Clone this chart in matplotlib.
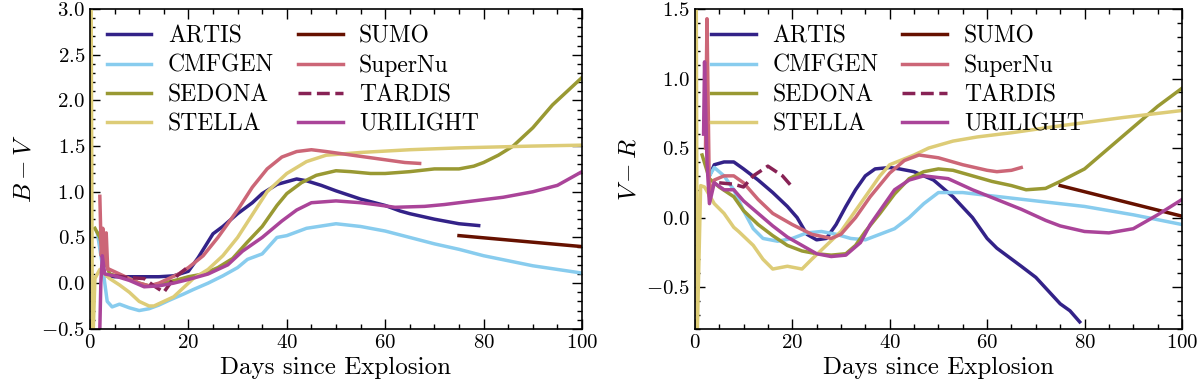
import numpy as np
import matplotlib
matplotlib.use("Agg")
import matplotlib.pyplot as plt
from matplotlib.ticker import MultipleLocator

plt.rcParams['font.family'] = 'serif'
plt.rcParams['font.serif'] = ['cmr10']
plt.rcParams['mathtext.fontset'] = 'cm'
plt.rcParams['axes.formatter.use_mathtext'] = True

# ---- B - V ----
bv_artis_d = [3.5, 5, 8, 11, 14, 17, 20, 22, 25, 27, 30, 33, 35, 38, 40, 42, 44, 47, 50, 55, 60, 63, 65, 70, 75, 79]
bv_artis = [0.08, 0.07, 0.07, 0.07, 0.07, 0.08, 0.13, 0.28, 0.54, 0.62, 0.76, 0.88, 0.98, 1.08, 1.11, 1.14, 1.12, 1.07, 1.01, 0.92, 0.85, 0.79, 0.76, 0.70, 0.65, 0.63]

bv_cmfgen_d = [1.5, 2.5, 3.5, 4.5, 6, 8, 10, 12, 14, 16, 19, 21, 24, 27, 30, 32, 35, 38, 40, 44, 50, 55, 60, 65, 70, 75, 80, 90, 100]
bv_cmfgen = [0.55, 0.2, -0.2, -0.26, -0.23, -0.27, -0.3, -0.28, -0.24, -0.19, -0.12, -0.07, 0.0, 0.08, 0.17, 0.26, 0.32, 0.5, 0.52, 0.6, 0.65, 0.62, 0.57, 0.5, 0.43, 0.37, 0.30, 0.19, 0.11]

bv_sedona_d = [1, 2, 3, 4, 6, 8, 10, 12, 15, 18, 20, 23, 26, 29, 32, 35, 38, 40, 43, 46, 50, 53, 57, 60, 65, 70, 75, 78, 80, 83, 86, 90, 94, 96, 100]
bv_sedona = [0.6, 0.5, 0.25, 0.1, 0.07, 0.05, 0.0, -0.03, 0.0, 0.04, 0.07, 0.1, 0.17, 0.27, 0.45, 0.62, 0.85, 0.98, 1.1, 1.18, 1.23, 1.22, 1.2, 1.2, 1.22, 1.25, 1.25, 1.28, 1.32, 1.4, 1.5, 1.7, 1.95, 2.05, 2.25]

bv_stella_d = [0.2, 0.5, 1, 2, 3, 4, 6, 8, 10, 12, 13, 15, 17, 19, 21, 24, 27, 30, 33, 36, 40, 44, 48, 55, 65, 75, 90, 100]
bv_stella = [3.5, -0.8, 0.05, 0.15, 0.1, 0.05, -0.02, -0.1, -0.2, -0.25, -0.25, -0.2, -0.15, -0.05, 0.05, 0.15, 0.3, 0.5, 0.75, 1.0, 1.2, 1.33, 1.4, 1.43, 1.46, 1.48, 1.5, 1.51]

bv_sumo_d = [75, 100]
bv_sumo = [0.52, 0.4]

bv_supernu_d = [2, 2.3, 2.6, 3, 3.3, 3.6, 4, 6, 8, 10, 12, 14, 16, 18, 20, 23, 26, 30, 33, 36, 39, 42, 45, 48, 52, 56, 60, 64, 67]
bv_supernu = [0.95, 0.3, 0.6, 0.2, 0.55, 0.15, 0.15, 0.1, 0.05, 0.0, -0.03, 0.0, 0.05, 0.1, 0.17, 0.3, 0.5, 0.8, 1.05, 1.25, 1.38, 1.44, 1.46, 1.44, 1.41, 1.38, 1.35, 1.32, 1.31]

bv_tardis_d = [5, 8, 11, 13, 15, 17, 20]
bv_tardis = [0.08, 0.06, 0.05, -0.03, -0.1, 0.05, 0.18]

bv_uri_d = [2, 2.2, 2.5, 3, 5, 8, 11, 14, 17, 20, 24, 28, 31, 35, 39, 42, 45, 50, 55, 58, 62, 68, 72, 78, 84, 90, 95, 100]
bv_uri = [-0.5, 0.0, 0.3, 0.1, 0.08, 0.03, -0.04, -0.03, 0.0, 0.04, 0.1, 0.2, 0.35, 0.5, 0.68, 0.8, 0.88, 0.9, 0.88, 0.86, 0.83, 0.84, 0.86, 0.9, 0.94, 1.0, 1.07, 1.22]

# ---- V - R ----
vr_artis_d = [3, 4, 6, 8, 10, 13, 16, 19, 21, 23, 25, 27, 29, 31, 33, 35, 37, 40, 42, 45, 49, 53, 57, 60, 62, 67, 70, 75, 77, 79]
vr_artis = [0.3, 0.38, 0.4, 0.4, 0.35, 0.27, 0.18, 0.08, 0.0, -0.12, -0.16, -0.15, -0.05, 0.08, 0.2, 0.3, 0.35, 0.36, 0.35, 0.33, 0.27, 0.15, 0.0, -0.15, -0.22, -0.35, -0.43, -0.62, -0.67, -0.75]

vr_cmfgen_d = [3, 4, 6, 8, 10, 12, 14, 17, 20, 23, 26, 29, 32, 35, 38, 41, 44, 47, 50, 55, 60, 70, 80, 90, 100]
vr_cmfgen = [0.3, 0.36, 0.3, 0.2, 0.05, -0.08, -0.15, -0.17, -0.15, -0.11, -0.1, -0.12, -0.15, -0.16, -0.12, -0.08, 0.0, 0.1, 0.18, 0.18, 0.16, 0.12, 0.08, 0.02, -0.05]

vr_sedona_d = [1.5, 3, 5, 8, 10, 13, 16, 19, 22, 25, 28, 31, 33, 35, 38, 41, 44, 47, 50, 53, 57, 61, 65, 68, 72, 75, 80, 85, 90, 95, 100]
vr_sedona = [0.45, 0.28, 0.22, 0.15, 0.05, -0.05, -0.13, -0.2, -0.24, -0.26, -0.27, -0.26, -0.2, -0.1, 0.03, 0.17, 0.28, 0.33, 0.35, 0.34, 0.3, 0.26, 0.23, 0.2, 0.21, 0.26, 0.35, 0.5, 0.65, 0.8, 0.93]

vr_stella_d = [0.3, 0.5, 1.2, 2, 4, 6, 8, 9, 12, 14, 16, 19, 22, 24, 27, 30, 32, 35, 38, 40, 45, 48, 53, 58, 65, 75, 88, 100]
vr_stella = [1.6, -0.85, 0.23, 0.22, 0.1, 0.03, -0.07, -0.1, -0.2, -0.3, -0.37, -0.35, -0.37, -0.3, -0.2, -0.1, 0.0, 0.15, 0.3, 0.38, 0.45, 0.5, 0.55, 0.58, 0.61, 0.66, 0.72, 0.77]

vr_sumo_d = [75, 100]
vr_sumo = [0.23, 0.01]

vr_supernu_d = [2.2, 2.5, 3, 4, 6, 8, 10, 13, 16, 20, 24, 28, 30, 33, 36, 40, 43, 46, 50, 55, 60, 62, 65, 67]
vr_supernu = [0.5, 1.43, 0.15, 0.27, 0.3, 0.3, 0.25, 0.13, 0.03, -0.05, -0.12, -0.15, -0.12, 0.0, 0.15, 0.32, 0.41, 0.45, 0.43, 0.38, 0.34, 0.33, 0.34, 0.36]

vr_tardis_d = [5, 8, 10, 12, 15, 18, 20]
vr_tardis = [0.25, 0.24, 0.22, 0.3, 0.37, 0.3, 0.22]

vr_uri_d = [1.8, 2, 2.5, 3, 4, 6, 8, 10, 13, 16, 19, 22, 25, 28, 31, 34, 36, 39, 41, 44, 47, 52, 57, 62, 67, 72, 75, 80, 85, 90, 95, 100]
vr_uri = [0.6, 1.12, 0.4, 0.1, 0.25, 0.2, 0.2, 0.12, 0.03, -0.06, -0.14, -0.2, -0.26, -0.28, -0.27, -0.18, -0.05, 0.1, 0.2, 0.27, 0.3, 0.28, 0.2, 0.13, 0.06, -0.02, -0.06, -0.1, -0.11, -0.08, 0.02, 0.13]

names = ['ARTIS', 'CMFGEN', 'SEDONA', 'STELLA', 'SUMO', 'SuperNu', 'TARDIS', 'URILIGHT']
colors = ['#332288', '#88CCEE', '#999933', '#DDCC77', '#661100', '#CC6677', '#882255', '#AA4499']
styles = ['-', '-', '-', '-', '-', '-', '--', '-']

bv = [(bv_artis_d, bv_artis), (bv_cmfgen_d, bv_cmfgen), (bv_sedona_d, bv_sedona),
      (bv_stella_d, bv_stella), (bv_sumo_d, bv_sumo), (bv_supernu_d, bv_supernu),
      (bv_tardis_d, bv_tardis), (bv_uri_d, bv_uri)]
vr = [(vr_artis_d, vr_artis), (vr_cmfgen_d, vr_cmfgen), (vr_sedona_d, vr_sedona),
      (vr_stella_d, vr_stella), (vr_sumo_d, vr_sumo), (vr_supernu_d, vr_supernu),
      (vr_tardis_d, vr_tardis), (vr_uri_d, vr_uri)]

fig = plt.figure(figsize=(12, 3.91), dpi=100)
ax1 = fig.add_axes([0.075, 0.159, 0.410, 0.818])
ax2 = fig.add_axes([0.579, 0.159, 0.406, 0.818])

for ax, data, ylab, ylim in [(ax1, bv, r'$B-V$', (-0.5, 3.0)),
                             (ax2, vr, r'$V-R$', (-0.8, 1.5))]:
    for (d, v), name, c, ls in zip(data, names, colors, styles):
        ax.plot(d, v, color=c, ls=ls, lw=2.5, label=name)
    ax.set_xlim(0, 100)
    ax.set_ylim(*ylim)
    ax.set_xlabel('Days since Explosion', fontsize=18)
    ax.set_ylabel(ylab, fontsize=18)
    ax.xaxis.set_major_locator(MultipleLocator(20))
    ax.xaxis.set_minor_locator(MultipleLocator(5))
    ax.yaxis.set_major_locator(MultipleLocator(0.5))
    ax.yaxis.set_minor_locator(MultipleLocator(0.1))
    ax.tick_params(which='both', direction='in', top=True, right=True, labelsize=15)
    ax.tick_params(which='major', length=7, width=1)
    ax.tick_params(which='minor', length=3.5, width=1)
    for s in ax.spines.values():
        s.set_linewidth(1.2)
    ax.legend(loc='upper left', ncol=2, frameon=False, fontsize=17,
              handlelength=1.9, handletextpad=0.7, columnspacing=1.0,
              labelspacing=0.3, borderaxespad=0.3)

fig.savefig('out.png', dpi=100)
